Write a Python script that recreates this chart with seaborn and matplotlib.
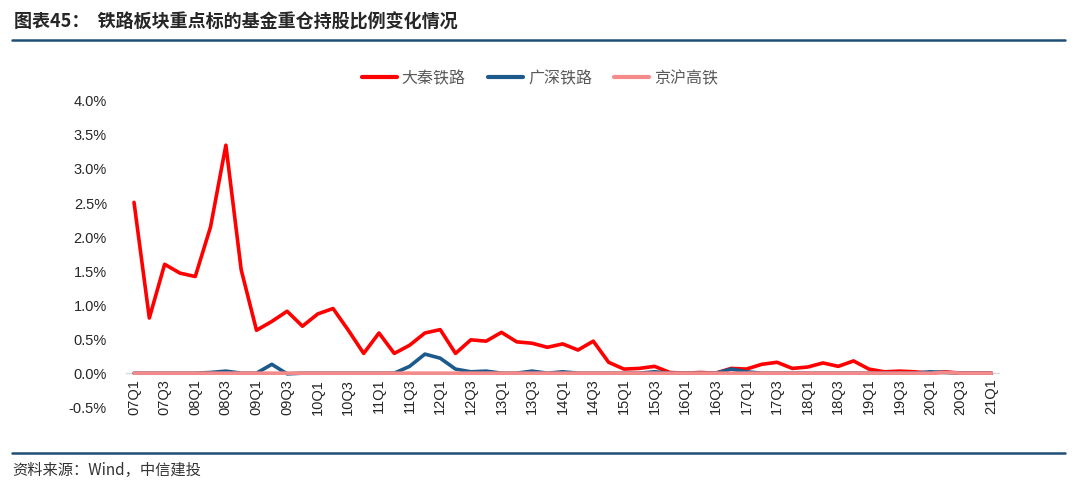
import matplotlib
matplotlib.use("Agg")
import matplotlib.pyplot as plt
import matplotlib.lines as mlines
import seaborn as sns
import pandas as pd

# Quarters 07Q1 .. 21Q1
quarters = [f"{y:02d}Q{q}" for y in range(7, 21) for q in range(1, 5)] + ["21Q1"]

# Fund heavy holding ratio (%)
daqin = [2.51, 0.81, 1.60, 1.47, 1.42, 2.15, 3.35, 1.52, 0.63, 0.76,
         0.91, 0.69, 0.87, 0.95, 0.63, 0.29, 0.59, 0.29, 0.41, 0.59,
         0.64, 0.29, 0.49, 0.47, 0.60, 0.46, 0.44, 0.38, 0.43, 0.34,
         0.47, 0.16, 0.06, 0.07, 0.10, 0.01, 0.00, 0.01, 0.00, 0.07,
         0.06, 0.13, 0.16, 0.07, 0.09, 0.15, 0.10, 0.18, 0.06, 0.02,
         0.03, 0.02, 0.00, 0.02, 0.00, 0.00, 0.00]
guangshen = [0.00, 0.00, 0.00, 0.00, 0.00, 0.01, 0.03, 0.00, 0.00, 0.13,
             -0.01, 0.00, 0.00, 0.00, 0.00, 0.00, 0.00, 0.00, 0.10, 0.28,
             0.22, 0.06, 0.02, 0.03, 0.00, 0.00, 0.03, 0.00, 0.02, 0.00,
             0.00, 0.00, 0.00, 0.00, 0.02, 0.00, 0.00, 0.00, 0.00, 0.06,
             0.02, 0.00, 0.00, 0.00, 0.00, 0.00, 0.00, 0.00, 0.00, 0.00,
             0.00, 0.00, 0.02, 0.01, 0.00, 0.00, 0.00]
jinghu = [0.00] * 53 + [0.01, 0.00, 0.00, 0.00]

names = ["大秦铁路", "广深铁路", "京沪高铁"]
colors = ["#FF0000", "#1B5A8A", "#F58A8A"]

rows = []
for name, vals in zip(names, [daqin, guangshen, jinghu]):
    for i, v in enumerate(vals):
        rows.append({"idx": i, "value": v / 100, "stock": name})
df = pd.DataFrame(rows)

sns.set_style("white")
plt.rcParams['font.family'] = ['Liberation Sans', 'Noto Sans CJK SC', 'DejaVu Sans']

fig = plt.figure(figsize=(10.8, 4.9), dpi=100)
ax = fig.add_axes([0.117, 0.169, 0.808, 0.625])

sns.lineplot(data=df, x="idx", y="value", hue="stock", hue_order=names,
             palette=colors, linewidth=2.6, ax=ax, legend=False)

# axis line through zero (set before ticks, it resets them)
for s in ["top", "right", "left"]:
    ax.spines[s].set_visible(False)
ax.spines["bottom"].set_position(("data", 0))
ax.spines["bottom"].set_color("#D9D9D9")
ax.spines["bottom"].set_linewidth(1)
ax.spines["bottom"].set_zorder(0)

ax.set_xlim(-0.5, len(quarters) - 0.5)
ax.set_ylim(-0.005, 0.04)
ax.set_yticks([i * 0.005 for i in range(-1, 9)])
ax.set_yticklabels([f"{v:.1f}%" for v in [i * 0.5 for i in range(-1, 9)]], fontsize=10.5)
ax.set_xticks(range(0, len(quarters), 2))
ax.set_xticklabels(quarters[::2], rotation=90, fontsize=10.5)
ax.tick_params(axis="both", length=0)
ax.tick_params(axis="x", pad=4)
ax.tick_params(axis="y", pad=14)
ax.set_xlabel("")
ax.set_ylabel("")

handles = [mlines.Line2D([], [], color=c, linewidth=3) for c in colors]
leg = fig.legend(handles, names, loc="center", bbox_to_anchor=(0.5, 0.84), ncol=3,
                 frameon=False, fontsize=11.5, handlelength=2.2, columnspacing=1.4,
                 handletextpad=0.3)
for t in leg.get_texts():
    t.set_color("#595959")
    t.set_family(['Noto Sans CJK SC', 'DejaVu Sans'])

fig.text(0.013, 0.955, "图表45：  铁路板块重点标的基金重仓持股比例变化情况", fontsize=13,
         fontweight="bold", va="center", ha="left", family=['Noto Sans CJK SC', 'DejaVu Sans'])
fig.add_artist(mlines.Line2D([0.011, 0.986], [0.918, 0.918], color="#1F4E79", linewidth=1.8))
fig.add_artist(mlines.Line2D([0.011, 0.986], [0.076, 0.076], color="#1F4E79", linewidth=1.8))
fig.text(0.011, 0.04, "资料来源：Wind，中信建投", fontsize=11, style="italic", color="#333333",
         va="center", ha="left", family=['Noto Sans CJK SC', 'DejaVu Sans'])

fig.savefig("out.png", dpi=100)
